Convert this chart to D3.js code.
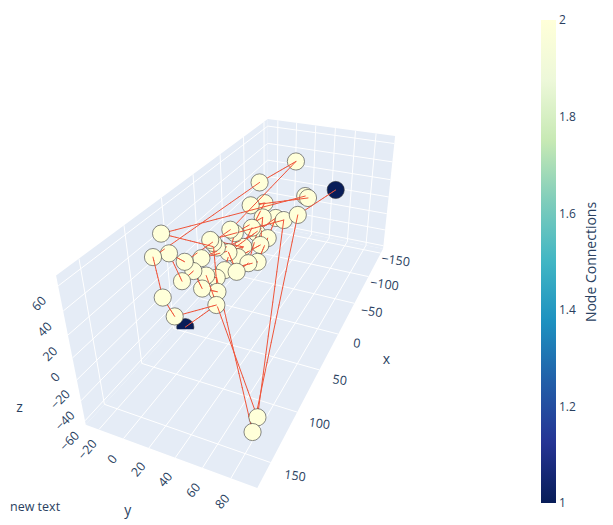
<!DOCTYPE html>
<html><head><meta charset="utf-8">
<script src="https://cdn.jsdelivr.net/npm/d3@7"></script>
<style>body{margin:0;background:#fff}</style></head>
<body><svg id="c" width="613" height="525"></svg>
<script>
// ---- data ----
const nodeX=[-110,-72,-78,-77,-88,78,100,84,75,57,-40,-62,-48,-62,-56,-57,6,2,-24,-28,-28,-14,36,35,33,23,14,18,13,72,62,37,34,51,89,73,66,82,114,109,44,143,151,1];
const nodeY=[18,-3,39,42,64,-16,-10,-7,0,4,2,6,10,38,27,19,4,6,10,13,23,22,1,3,5,10,14,25,31,5,10,13,22,13,5,12,21,28,4,9,-23,86,86,13];
const nodeZ=[46,35,26,25,33,53,46,41,30,24,26,19,11,13,8,8,24,19,12,5,2,2,29,26,21,12,3,2,2,21,12,3,2,4,22,7,2,2,23,4,-64,-33,-39,6];
const linkOrder=[41,38,40,39,7,2,1,17,9,8,35,30,36,37,24,25,6,3,4,11,12,19,27,22,13,18,32,29,21,16,26,33,28,20,10,44,23,15,42,31,34,43,14,5];
const xRange=[-160,172], yRange=[-31,98], zRange=[-64,68];
const xTicks=[-150,-100,-50,0,50,100,150], yTicks=[-20,0,20,40,60,80], zTicks=[-60,-40,-20,0,20,40,60];
const cbTicks=[1,1.2,1.4,1.6,1.8,2];
const cbColors=["rgb(8,29,88)","rgb(37,52,148)","rgb(34,94,168)","rgb(29,145,192)","rgb(65,182,196)","rgb(127,205,187)","rgb(199,233,180)","rgb(237,248,217)","rgb(255,255,217)"];
// camera: screen positions of six box corners (normalized box coords)
const cameraCorners=[[[1,0,0],[87,426]],[[1,1,0],[256,488]],[[0,1,0],[383,248]],[[1,0,1],[56,274]],[[0,0,1],[267,119]],[[0,1,1],[396,137]]];

// ---- projection (DLT fit of a perspective camera) ----
function solve(M,b){const n=b.length;M=M.map((r,i)=>[...r,b[i]]);for(let i=0;i<n;i++){let p=i;for(let k=i+1;k<n;k++)if(Math.abs(M[k][i])>Math.abs(M[p][i]))p=k;[M[i],M[p]]=[M[p],M[i]];for(let k=i+1;k<n;k++){const f=M[k][i]/M[i][i];for(let j=i;j<=n;j++)M[k][j]-=f*M[i][j];}}const x=new Array(n).fill(0);for(let i=n-1;i>=0;i--){let s=M[i][n];for(let j=i+1;j<n;j++)s-=M[i][j]*x[j];x[i]=s/M[i][i];}return x;}
const R=[],B=[];
cameraCorners.forEach(([[X,Y,Z],[u,v]])=>{R.push([X,Y,Z,1,0,0,0,0,-u*X,-u*Y,-u*Z]);B.push(u);R.push([0,0,0,0,X,Y,Z,1,-v*X,-v*Y,-v*Z]);B.push(v);});
const NM=Array.from({length:11},(_,i)=>Array.from({length:11},(_,j)=>R.reduce((s,r)=>s+r[i]*r[j],0)));
const rb=Array.from({length:11},(_,i)=>R.reduce((s,r,k)=>s+r[i]*B[k],0));
const q=solve(NM,rb);
const nx=d3.scaleLinear().domain(xRange).range([0,1]),ny=d3.scaleLinear().domain(yRange).range([0,1]),nz=d3.scaleLinear().domain(zRange).range([0,1]);
function projN(X,Y,Z){const w=q[8]*X+q[9]*Y+q[10]*Z+1;return[(q[0]*X+q[1]*Y+q[2]*Z+q[3])/w,(q[4]*X+q[5]*Y+q[6]*Z+q[7])/w,w];}
function proj(x,y,z){return projN(nx(x),ny(y),nz(z));}

const svg=d3.select("#c");
const defs=svg.append("defs");
const g=svg.append("g");
function poly(pts,fill){g.append("path").attr("d","M"+pts.map(p=>p.slice(0,2).join(",")).join("L")+"Z").attr("fill",fill);}
function seg(a,b,col,w){g.append("line").attr("x1",a[0]).attr("y1",a[1]).attr("x2",b[0]).attr("y2",b[1]).attr("stroke",col).attr("stroke-width",w);}
const [x0,x1]=xRange,[y0,y1]=yRange,[z0,z1]=zRange;
poly([proj(x0,y0,z0),proj(x1,y0,z0),proj(x1,y0,z1),proj(x0,y0,z1)],"#E5ECF6");
poly([proj(x0,y0,z0),proj(x0,y1,z0),proj(x0,y1,z1),proj(x0,y0,z1)],"#E5ECF6");
poly([proj(x0,y0,z0),proj(x1,y0,z0),proj(x1,y1,z0),proj(x0,y1,z0)],"#E5ECF6");
xTicks.forEach(t=>{seg(proj(t,y0,z0),proj(t,y0,z1),"#fff",1);seg(proj(t,y0,z0),proj(t,y1,z0),"#fff",1);});
yTicks.forEach(t=>{seg(proj(x0,t,z0),proj(x0,t,z1),"#fff",1);seg(proj(x0,t,z0),proj(x1,t,z0),"#fff",1);});
zTicks.forEach(t=>{seg(proj(x0,y0,t),proj(x1,y0,t),"#fff",1);seg(proj(x0,y0,t),proj(x0,y1,t),"#fff",1);});

// ---- axis labels ----
const dx=x1-x0,dy=y1-y0;
const lab=svg.append("g").attr("font-family","'Open Sans',sans-serif").attr("fill","#2a3f5f").attr("text-anchor","middle").attr("dominant-baseline","central");
function txt(p,s,rot,fs,nd){const ox=nd?nd[0]:0,oy=nd?nd[1]:0;lab.append("text").attr("transform",`translate(${p[0]+ox},${p[1]+oy}) rotate(${rot})`).attr("font-size",fs).text(s);}
const fmt=t=>String(t).replace("-","\u2212");
xTicks.forEach(t=>txt(proj(t,y1+0.15*dy,z0),fmt(t),8,12.5,[-4,3]));
yTicks.forEach(t=>txt(proj(x1+0.05*dx,t,z0),fmt(t),-50,12.5,[3,3]));
zTicks.forEach(t=>txt(proj(x1+0.055*dx,y0,t),fmt(t),-45,12.5,[1,2]));
txt(proj(15,y1+0.34*dy,z0),"x",0,14);
txt(proj(x1+0.14*dx,34,z0),"y",0,14);
txt(proj(x1+0.14*dx,y0-0.025*dy,-3),"z",0,14);

// ---- edges & nodes (depth sorted) ----
const nodes=nodeX.map((x,i)=>[x,nodeY[i],nodeZ[i]]);
const deg=nodes.map(()=>0);for(let i=1;i<linkOrder.length;i++){deg[linkOrder[i-1]-1]++;deg[linkOrder[i]-1]++;}
const items=[];
for(let i=1;i<linkOrder.length;i++){const a=nodes[linkOrder[i-1]-1],b=nodes[linkOrder[i]-1];const K=12;for(let k=0;k<K;k++){const t0=k/K,t1=(k+1)/K;const pa=proj(...a.map((v,j)=>v+(b[j]-v)*t0)),pb=proj(...a.map((v,j)=>v+(b[j]-v)*t1));items.push({t:"e",a:pa,b:pb,w:(pa[2]+pb[2])/2});}}
nodes.forEach((n,i)=>{const p=proj(...n);items.push({t:"n",p,w:p[2],i});});
items.sort((m,n)=>n.w-m.w);
const color=d3.scaleLinear().domain(d3.range(9).map(i=>1+i/8)).range(cbColors);
const dg=svg.append("g");
items.forEach(it=>{
 if(it.t==="e"){dg.append("line").attr("x1",it.a[0]).attr("y1",it.a[1]).attr("x2",it.b[0]).attr("y2",it.b[1]).attr("stroke","#EF553B").attr("stroke-width",1).attr("stroke-linecap","round");}
 else{const c=dg.append("circle").attr("cx",it.p[0]).attr("cy",it.p[1]).attr("r",8.6).attr("fill",color(deg[it.i])).attr("stroke","#3d3d3d").attr("stroke-width",0.6);
  if(nodes[it.i][2]<=z0){const id="clip"+it.i;defs.append("clipPath").attr("id",id).append("rect").attr("x",it.p[0]-12).attr("y",it.p[1]-12).attr("width",24).attr("height",14.2);c.attr("clip-path",`url(#${id})`);}}
});

// ---- colorbar ----
const cbY=d3.scaleLinear().domain([1,2]).range([503,20]);
const grad=defs.append("linearGradient").attr("id","cbg").attr("x1",0).attr("y1",1).attr("x2",0).attr("y2",0);
cbColors.forEach((c,i)=>grad.append("stop").attr("offset",i/8).attr("stop-color",c));
svg.append("rect").attr("x",541).attr("y",cbY(2)).attr("width",15).attr("height",cbY(1)-cbY(2)).attr("fill","url(#cbg)");
const cbAxis=svg.append("g").attr("transform","translate(556,0)").call(d3.axisRight(cbY).tickValues(cbTicks).tickSize(0).tickPadding(3).tickFormat(d3.format("~g")));
cbAxis.select(".domain").remove();
cbAxis.selectAll("text").attr("font-family","'Open Sans',sans-serif").attr("font-size",12).attr("fill","#2a3f5f");
svg.append("text").attr("transform","translate(596,262) rotate(-90)").attr("text-anchor","middle").attr("font-family","'Open Sans',sans-serif").attr("font-size",14).attr("fill","#2a3f5f").text("Node Connections");
svg.append("text").attr("x",10).attr("y",511).attr("font-family","'Open Sans',sans-serif").attr("font-size",12.5).attr("fill","#2a3f5f").text("new text");
</script></body></html>
